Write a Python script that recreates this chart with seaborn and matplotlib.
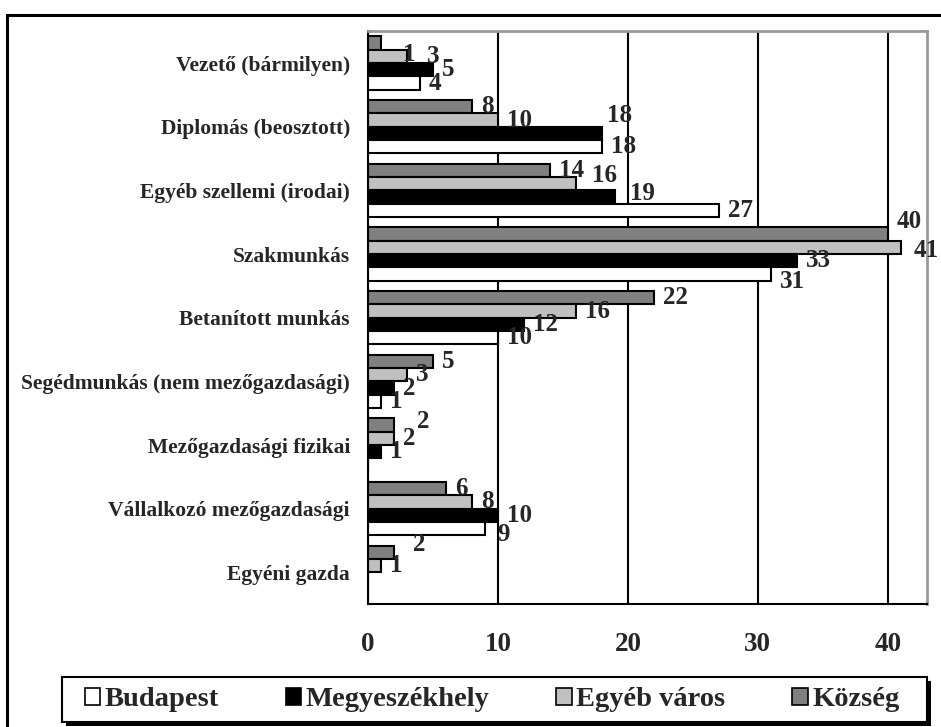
"""Foglalkozási csoportok településtípus szerint - vízszintes csoportos oszlopdiagram."""
import matplotlib

matplotlib.use("Agg")
import matplotlib.pyplot as plt
from matplotlib.patches import Patch, Rectangle
import numpy as np
import pandas as pd
import seaborn as sns

categories = [
    "Vezető (bármilyen)",
    "Diplomás (beosztott)",
    "Egyéb szellemi (irodai)",
    "Szakmunkás",
    "Betanított munkás",
    "Segédmunkás (nem mezőgazdasági)",
    "Mezőgazdasági fizikai",
    "Vállalkozó mezőgazdasági",
    "Egyéni gazda",
]
budapest = [4, 18, 27, 31, 10, 1, 0, 9, 0]
megyeszekhely = [5, 18, 19, 33, 12, 2, 1, 10, 0]
egyeb_varos = [3, 10, 16, 41, 16, 3, 2, 8, 1]
kozseg = [1, 8, 14, 40, 22, 5, 2, 6, 2]

series = {
    "Budapest": budapest,
    "Megyeszékhely": megyeszekhely,
    "Egyéb város": egyeb_varos,
    "Község": kozseg,
}
colors = {
    "Budapest": "#ffffff",
    "Megyeszékhely": "#000000",
    "Egyéb város": "#c0c0c0",
    "Község": "#808080",
}
# bars are stacked top-to-bottom in this order inside each group
bar_order = ["Község", "Egyéb város", "Megyeszékhely", "Budapest"]

# hand nudges for a few data labels (pixels right, pixels down)
nudges = {
    (0, "Község"): (22, 11),
    (0, "Egyéb város"): (20, 0),
    (1, "Megyeszékhely"): (5, -18),
    (2, "Egyéb város"): (16, -8),
    (2, "Megyeszékhely"): (15, -4),
    (3, "Község"): (9, -12),
    (3, "Egyéb város"): (13, 3),
    (3, "Budapest"): (9, 7),
    (6, "Község"): (23, -3),
    (7, "Budapest"): (12, 6),
    (8, "Község"): (19, -8),
}

df = pd.DataFrame(
    [(cat, name, vals[i]) for name, vals in series.items()
     for i, cat in enumerate(categories)],
    columns=["category", "group", "value"],
)

sns.set_style("white")
plt.rcParams["font.family"] = ["Liberation Serif", "DejaVu Serif"]
plt.rcParams["font.weight"] = "bold"

W, H = 941, 727
fig, ax = plt.subplots(figsize=(W / 100, H / 100), dpi=100)
fig.subplots_adjust(left=0.391, right=0.985, bottom=0.169, top=0.957)

sns.barplot(data=df, x="value", y="category", hue="group", order=categories,
            hue_order=bar_order, palette=colors, orient="h", width=0.84,
            edgecolor="black", linewidth=1.5, legend=False, ax=ax)

ax.set_xlim(0, 43)
ax.set_ylim(len(categories) - 0.5, -0.5)
ax.set_xticks([0, 10, 20, 30, 40])
ax.set_axisbelow(True)
ax.xaxis.grid(True, color="black", linewidth=1.5)
ax.yaxis.grid(False)
ax.set_xlabel("")
ax.set_ylabel("")

for side in ("top", "right"):
    ax.spines[side].set_color("#999999")
    ax.spines[side].set_linewidth(2)
for side in ("left", "bottom"):
    ax.spines[side].set_color("black")
    ax.spines[side].set_linewidth(1.5)

ax.set_yticks(np.arange(-0.5, len(categories), 1), minor=True)
ax.tick_params(axis="y", which="major", length=0, pad=13, labelsize=15.5)
ax.tick_params(axis="y", which="minor", length=5, width=1.5, direction="out")
ax.tick_params(axis="x", which="major", length=8, width=1.5, direction="out",
               pad=12, labelsize=19.5)
for t in ax.get_xticklabels() + ax.get_yticklabels():
    t.set_fontweight("bold")

# data labels
for name, container in zip(bar_order, ax.containers):
    for i, bar in enumerate(container.patches):
        v = series[name][i]
        if v == 0:
            continue
        dx, dy = nudges.get((i, name), (9, 0))
        ax.annotate(str(v), xy=(bar.get_width(), bar.get_y() + bar.get_height() / 2),
                    xytext=(dx, -dy), textcoords="offset pixels",
                    ha="left", va="center", fontsize=18, fontweight="bold",
                    annotation_clip=False)

# legend box with a hard black shadow, drawn by hand
box_l, box_r, box_t, box_b = 62, 927, 677, 722
fig.add_artist(Rectangle(((box_l + 4) / W, 1 - (box_b + 4) / H),
                         (box_r - box_l) / W, (box_b - box_t) / H,
                         transform=fig.transFigure, facecolor="black",
                         edgecolor="black", linewidth=0, zorder=3))
fig.add_artist(Rectangle((box_l / W, 1 - box_b / H),
                         (box_r - box_l) / W, (box_b - box_t) / H,
                         transform=fig.transFigure, facecolor="white",
                         edgecolor="black", linewidth=1.5, zorder=4))

handles = [Patch(facecolor=colors[n], edgecolor="black", linewidth=1.2)
           for n in series]
leg = fig.legend(handles, list(series), loc="center", ncol=4,
                 bbox_to_anchor=(492 / W, 1 - 700 / H),
                 bbox_transform=fig.transFigure, frameon=False,
                 handlelength=0.55, handleheight=0.55, handletextpad=0.15,
                 columnspacing=2.35, borderpad=0,
                 prop={"size": 20.5, "weight": "bold"})
leg.set_zorder(5)

# outer chart frame
fig.add_artist(Rectangle((7 / W, -0.1), 1.2, 0.1 + (H - 15) / H,
                         transform=fig.transFigure, fill=False,
                         edgecolor="black", linewidth=2.2, clip_on=False))

fig.savefig("out.png", dpi=100)
